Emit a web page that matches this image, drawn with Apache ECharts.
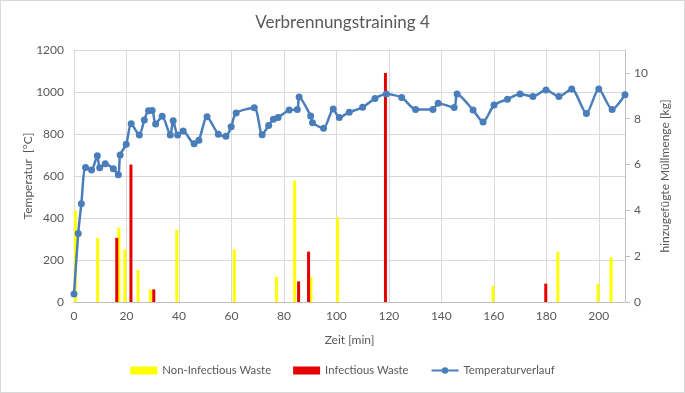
<!DOCTYPE html>
<html>
<head>
<meta charset="utf-8">
<script src="https://cdn.jsdelivr.net/npm/echarts@6/dist/echarts.min.js"></script>
<style>
  html, body { margin: 0; padding: 0; background: #fff; }
  #chart { width: 683px; height: 391px; border: 1px solid #d9d9d9; }
</style>
</head>
<body>
<div id="chart"></div>
<script>
// Temperature profile (left axis, °C)
const tempTime = [0, 1.6, 2.8, 4.4, 6.7, 8.9, 9.8, 11.9, 15, 16.9, 17.6, 19.9, 21.8, 24.9, 26.8, 28.4, 29.8, 31.1, 33.6, 36.7, 37.8, 39.5, 41.6, 45.8, 47.6, 50.7, 55, 57.9, 59.9, 61.8, 68.7, 71.7, 74.2, 76, 77.8, 82, 85.1, 85.8, 90.2, 90.9, 95.1, 98.8, 101.1, 104.9, 110, 114.7, 119, 124.9, 130.2, 136.8, 138.8, 144.9, 146, 152.1, 155.9, 160.1, 165.2, 170, 174.9, 179.9, 184.8, 189.7, 195.3, 200, 205.1, 210];
const tempValues = [38, 326, 468, 640, 629, 697, 639, 658, 634, 606, 700, 751, 849, 795, 867, 911, 912, 848, 884, 795, 863, 795, 814, 753, 770, 882, 799, 789, 835, 900, 925, 797, 841, 870, 879, 914, 917, 976, 886, 854, 827, 919, 879, 904, 927, 969, 990, 974, 917, 917, 947, 926, 990, 914, 857, 938, 966, 990, 979, 1009, 979, 1014, 898, 1014, 917, 987];

// Added waste (right axis, kg)
const nonInfTime = [0.5, 9, 17.1, 19.4, 24.4, 29.1, 39.2, 61.1, 77.2, 84.1, 90.3, 100.4, 159.7, 184.4, 199.7, 204.7];
const nonInfKg = [4.0, 2.8, 3.25, 2.3, 1.4, 0.55, 3.15, 2.3, 1.1, 5.3, 1.1, 3.7, 0.7, 2.2, 0.8, 1.95];
const infTime = [16.3, 21.7, 30.4, 85.6, 89.4, 118.7, 179.8];
const infKg = [2.8, 6.0, 0.55, 0.9, 2.2, 10.0, 0.8];

const seriesNames = ['Non-Infectious Waste', 'Infectious Waste', 'Temperaturverlauf'];

const zip = (a, b) => a.map((v, i) => [v, b[i]]);
const font = 'Lato, "Open Sans", sans-serif';
const txt = '#595959';

const chart = echarts.init(document.getElementById('chart'));
chart.setOption({
  animation: false,
  textStyle: { fontFamily: font },
  title: {
    text: 'Verbrennungstraining 4',
    left: 'center',
    top: 8,
    textStyle: { fontFamily: font, fontSize: 17, fontWeight: 'normal', color: txt }
  },
  grid: { left: 73, right: 59, top: 49, bottom: 90 },
  legend: {
    bottom: 11,
    left: 'center',
    itemGap: 22,
    itemWidth: 27,
    itemHeight: 8,
    textStyle: { fontFamily: font, fontSize: 11.3, color: txt },
    data: [
      { name: seriesNames[0], icon: 'rect' },
      { name: seriesNames[1], icon: 'rect' },
      { name: seriesNames[2] }
    ]
  },
  xAxis: {
    type: 'value',
    min: 0, max: 210, interval: 20,
    name: 'Zeit [min]',
    nameLocation: 'middle',
    nameGap: 32,
    nameTextStyle: { fontFamily: font, fontSize: 12, color: txt },
    axisLine: { show: true, lineStyle: { color: '#bfbfbf' } },
    axisTick: { show: false },
    axisLabel: { color: txt, fontSize: 12, margin: 8, showMaxLabel: false },
    splitLine: { show: true, lineStyle: { color: '#d9d9d9' } }
  },
  yAxis: [
    {
      type: 'value',
      min: 0, max: 1200, interval: 200,
      name: 'Temperatur  [°C]',
      nameLocation: 'middle',
      nameGap: 40,
      nameMoveOverlap: false,
      nameRotate: 90,
      nameTextStyle: { fontFamily: font, fontSize: 12, color: txt },
      axisLine: { show: false },
      axisTick: { show: false },
      axisLabel: { color: txt, fontSize: 12, margin: 10, formatter: v => String(v) },
      splitLine: { show: true, lineStyle: { color: '#d9d9d9' } }
    },
    {
      type: 'value',
      min: 0, max: 11, interval: 2,
      name: 'hinzugefügte Müllmenge [kg]',
      nameLocation: 'middle',
      nameGap: 34,
      nameRotate: 90,
      nameTextStyle: { fontFamily: font, fontSize: 12, color: txt },
      axisLine: { show: true, lineStyle: { color: '#bfbfbf' } },
      axisTick: { show: true, length: 5, lineStyle: { color: '#bfbfbf' } },
      axisLabel: { color: txt, fontSize: 12, margin: 9, showMaxLabel: false },
      splitLine: { show: false }
    }
  ],
  series: [
    {
      name: seriesNames[0],
      type: 'bar',
      yAxisIndex: 1,
      barWidth: 3,
      barGap: '-100%',
      itemStyle: { color: '#ffff00' },
      data: zip(nonInfTime, nonInfKg)
    },
    {
      name: seriesNames[1],
      type: 'bar',
      yAxisIndex: 1,
      barWidth: 3,
      barGap: '-100%',
      itemStyle: { color: '#e60000' },
      data: zip(infTime, infKg)
    },
    {
      name: seriesNames[2],
      type: 'line',
      yAxisIndex: 0,
      smooth: 0.25,
      symbol: 'circle',
      symbolSize: 7,
      lineStyle: { color: '#4a7ebb', width: 2.5 },
      itemStyle: { color: '#4a7ebb' },
      data: zip(tempTime, tempValues)
    }
  ]
});
</script>
</body>
</html>
